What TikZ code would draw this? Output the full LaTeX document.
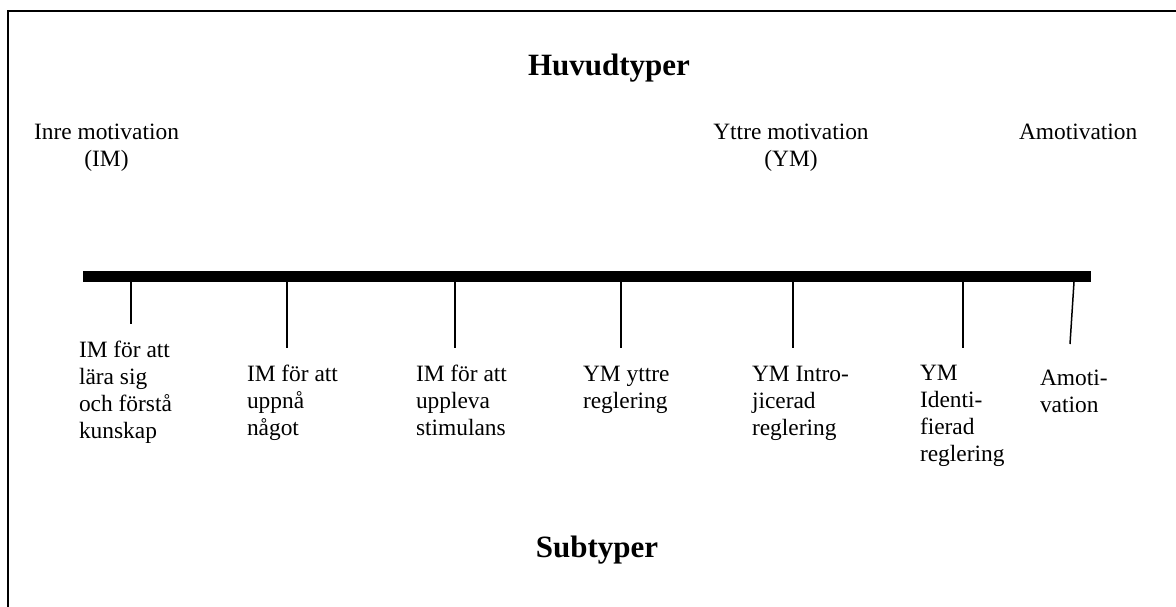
\documentclass[tikz,border=0pt]{standalone}
\usepackage{fontspec}
\setmainfont{Liberation Serif}
\begin{document}
\begin{tikzpicture}[x=1pt,y=-1pt,
  lbl/.style={inner sep=0pt,outer sep=0pt,font=\fontsize{23.4}{27}\selectfont},
  sub/.style={lbl,align=left,anchor=base west},
  head/.style={inner sep=0pt,anchor=base,font=\fontsize{31}{36}\selectfont\bfseries},
  tick/.style={line width=1.5pt},
  frame/.style={line width=2pt}]
\useasboundingbox (0,0) rectangle (1176,607);

% frame
\draw[frame] (7.5,607) -- (7.5,11) -- (1176,11);

% headings
\node[head] (huvud) at (609,76) {Huvudtyper};
\node[head] (sub) at (597,557) {Subtyper};

% main types (base anchor sits on the last line)
\node[lbl,align=center,anchor=base] (im) at (106.5,167) {Inre motivation\\(IM)};
\node[lbl,align=center,anchor=base] (ym) at (791,167) {Yttre motivation\\(YM)};
\node[lbl,anchor=base west] (amot) at (1019,140) {Amotivation};

% scale bar
\coordinate (barL) at (83,276.5);
\coordinate (barR) at (1091,276.5);
\draw[line width=11pt] (barL) -- (barR);

% ticks on the bar
\foreach \n/\x/\e in {t1/131/324, t2/287/348, t3/455/348, t4/621/348, t5/793/348, t6/963/348}{
  \coordinate (\n a) at (\x,282);
  \coordinate (\n b) at (\x,\e);
  \draw[tick] (\n a) -- (\n b);
}
\coordinate (t7a) at (1074,282);
\coordinate (t7b) at (1070,344);
\draw[tick] (t7a) -- (t7b);

% subtypes (positions given at the last line's baseline)
\node[sub] (s1) at (79,438) {IM för att\\lära sig\\och förstå\\kunskap};
\node[sub] (s2) at (247,435) {IM för att\\uppnå\\något};
\node[sub] (s3) at (416,435) {IM för att\\uppleva\\stimulans};
\node[sub] (s4) at (583,408) {YM yttre\\reglering};
\node[sub] (s5) at (752,435) {YM Intro-\\jicerad\\reglering};
\node[sub] (s6) at (920,461) {YM\\Identi-\\fierad\\reglering};
\node[sub] (s7) at (1040,412) {Amoti-\\vation};
\end{tikzpicture}
\end{document}
